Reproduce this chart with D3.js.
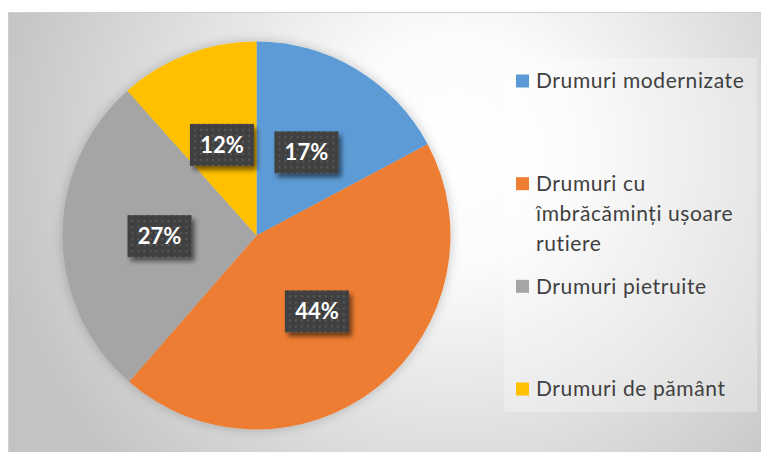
<!DOCTYPE html>
<html>
<head>
<meta charset="utf-8">
<script src="https://cdn.jsdelivr.net/npm/d3@7"></script>
<style>
  html, body { margin: 0; padding: 0; background: #ffffff; }
  svg { display: block; }
</style>
</head>
<body>
<svg id="chart" width="761" height="452"></svg>
<script>
// ---- data ----
const categories = [
  "Drumuri modernizate",
  "Drumuri cu îmbrăcăminți ușoare rutiere",
  "Drumuri pietruite",
  "Drumuri de pământ"
];
const values = [17.2, 44.2, 27.0, 11.6];
const colors = ["#5B9BD5", "#ED7D31", "#A5A5A5", "#FFC000"];

// ---- layout ----
const W = 761, H = 452;
const cx = 256.5, cy = 235.5, R = 194;
const labelR = 97;
const fontFamily = "Lato, 'Open Sans', 'DejaVu Sans', sans-serif";

const svg = d3.select("#chart");
const defs = svg.append("defs");

// background radial gradient
const bg = defs.append("radialGradient")
  .attr("id", "bgGrad")
  .attr("gradientUnits", "userSpaceOnUse")
  .attr("cx", 455).attr("cy", 150).attr("r", 470);
bg.append("stop").attr("offset", "0%").attr("stop-color", "#ffffff");
bg.append("stop").attr("offset", "25%").attr("stop-color", "#fbfbfb");
bg.append("stop").attr("offset", "100%").attr("stop-color", "#c3c3c3");

// pie shadow
const pf = defs.append("filter").attr("id", "pieShadow")
  .attr("x", "-20%").attr("y", "-20%").attr("width", "140%").attr("height", "140%");
pf.append("feGaussianBlur").attr("in", "SourceAlpha").attr("stdDeviation", 6).attr("result", "b");
pf.append("feComponentTransfer").attr("in", "b").attr("result", "s")
  .append("feFuncA").attr("type", "linear").attr("slope", 0.22);
const pm = pf.append("feMerge");
pm.append("feMergeNode").attr("in", "s");
pm.append("feMergeNode").attr("in", "SourceGraphic");

// label shadow
const lf = defs.append("filter").attr("id", "lblShadow")
  .attr("x", "-30%").attr("y", "-30%").attr("width", "170%").attr("height", "170%");
lf.append("feGaussianBlur").attr("in", "SourceAlpha").attr("stdDeviation", 2.5).attr("result", "b");
lf.append("feOffset").attr("in", "b").attr("dx", 3).attr("dy", 4).attr("result", "o");
lf.append("feComponentTransfer").attr("in", "o").attr("result", "s")
  .append("feFuncA").attr("type", "linear").attr("slope", 0.55);
const lm = lf.append("feMerge");
lm.append("feMergeNode").attr("in", "s");
lm.append("feMergeNode").attr("in", "SourceGraphic");

// dotted pattern for label boxes
const pat = defs.append("pattern").attr("id", "dots")
  .attr("patternUnits", "userSpaceOnUse").attr("width", 6).attr("height", 6);
pat.append("rect").attr("width", 6).attr("height", 6).attr("fill", "#404040");
pat.append("circle").attr("cx", 3).attr("cy", 3).attr("r", 1.2).attr("fill", "#575757");

// background / chart area
svg.append("rect").attr("x", 8.5).attr("y", 12.5).attr("width", W).attr("height", H)
  .attr("fill", "url(#bgGrad)").attr("stroke", "#cfcfcf").attr("stroke-width", 1);

// legend background
svg.append("rect").attr("x", 504).attr("y", 58).attr("width", 253).attr("height", 354)
  .attr("fill", "#ffffff").attr("fill-opacity", 0.28);

// ---- pie ----
const pie = d3.pie().sort(null).value(d => d)(values);
const arc = d3.arc().innerRadius(0).outerRadius(R);
const labelArc = d3.arc().innerRadius(labelR).outerRadius(labelR);
const total = d3.sum(values);
const pct = d3.format(".0%");

const g = svg.append("g").attr("transform", `translate(${cx},${cy})`);
g.append("g").attr("filter", "url(#pieShadow)")
  .selectAll("path").data(pie).join("path")
  .attr("d", arc)
  .attr("fill", (d, i) => colors[i]);

const lbl = g.selectAll("g.lbl").data(pie).join("g").attr("class", "lbl")
  .attr("transform", d => `translate(${labelArc.centroid(d)})`);
lbl.append("rect")
  .attr("x", -32).attr("y", -21).attr("width", 64).attr("height", 42)
  .attr("fill", "url(#dots)").attr("filter", "url(#lblShadow)");
lbl.append("text")
  .attr("text-anchor", "middle").attr("dy", "0.36em")
  .attr("font-family", fontFamily).attr("font-weight", "bold")
  .attr("font-size", 22).attr("fill", "#ffffff")
  .text(d => pct(d.data / total));

// ---- legend ----
const legX = 516, textX = 536, lineH = 30, maxW = 222;
const fontSize = 21;
const yScale = d3.scaleLinear().domain([0, categories.length - 1]).range([81, 389]);

const leg = svg.append("g");
categories.forEach((name, i) => {
  const y0 = yScale(i);
  leg.append("rect").attr("x", legX).attr("y", y0 - 6.5).attr("width", 13).attr("height", 13)
    .attr("fill", colors[i]);
  const t = leg.append("text")
    .attr("font-family", fontFamily).attr("font-size", fontSize)
    .attr("letter-spacing", 0.6).attr("fill", "#404040");
  // word wrap
  const words = name.split(" ");
  let line = [], lineNo = 0;
  let ts = t.append("tspan").attr("x", textX).attr("y", y0).attr("dy", "0.35em");
  words.forEach(w => {
    line.push(w);
    ts.text(line.join(" "));
    if (ts.node().getComputedTextLength() > maxW && line.length > 1) {
      line.pop();
      ts.text(line.join(" "));
      line = [w];
      lineNo++;
      ts = t.append("tspan").attr("x", textX).attr("y", y0 + lineNo * lineH).attr("dy", "0.35em").text(w);
    }
  });
});
</script>
</body>
</html>
